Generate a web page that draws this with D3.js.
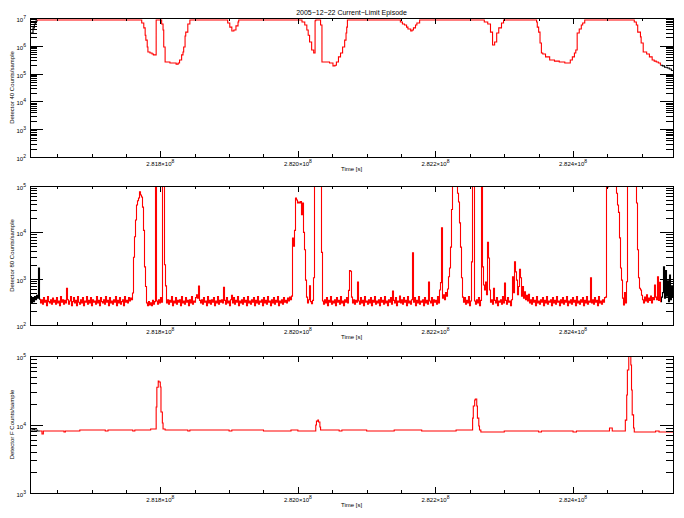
<!DOCTYPE html>
<html>
<head>
<meta charset="utf-8">
<script src="https://cdn.jsdelivr.net/npm/d3@7"></script>
<style>
body { margin: 0; background: #fff; }
text { font-family: "Liberation Sans", Arial, sans-serif; fill: #000; }
</style>
</head>
<body>
<div id="chart"></div>
<script>
// time in kiloseconds
var timeStart = 281610.6, timeEnd = 282545.3
var timeTicks = [281800, 282000, 282200, 282400]
var timeMinor = d3.range(281650, 282545, 50)
var titleText = "2005\u221212\u221222 Current\u2212Limit Episode"

// Detector 40: [time, counts] breakpoints
var det40 = [
    [281610.6, 2.9e6], [281615, 4.4e6], [281617, 6.1e6], [281619, 7.8e6], [281621, 8.5e6],
    [281773, 6.6e6], [281776, 4.4e6], [281778, 2.4e6], [281779, 1.6e6], [281781, 9.1e5], [281782, 6.0e5],
    [281785, 5.5e5], [281788, 5.1e5], [281790, 4.7e5], [281794, 8.5e6], [281802, 6.1e6], [281804, 3.7e6],
    [281805, 9.1e5], [281807, 2.6e5], [281814, 2.4e5], [281823, 2.2e5], [281826, 2.4e5], [281828, 3.1e5],
    [281831, 4.7e5], [281833, 6.0e5], [281834, 9.1e5], [281836, 2.25e6], [281837, 3.1e6], [281840, 6.1e6],
    [281843, 8.5e6],
    [281898, 6.6e6], [281901, 4.7e6], [281904, 3.4e6], [281907, 3.7e6], [281910, 5.2e6], [281913, 7.2e6],
    [281914, 8.5e6],
    [282006, 7.2e6], [282010, 5.6e6], [282013, 3.7e6], [282015, 2.4e6], [282017, 1.37e6], [282020, 7.1e5],
    [282023, 5.5e5], [282025, 8.0e6], [282026, 8.5e6], [282033, 5.6e6], [282035, 2.6e5], [282046, 2.4e5],
    [282051, 1.9e5], [282054, 2.0e5], [282056, 2.6e5], [282059, 4.0e5], [282062, 5.5e5], [282065, 9.1e5],
    [282068, 1.6e6], [282070, 2.9e6], [282071, 4.7e6], [282072, 8.5e6],
    [282149, 7.2e6], [282152, 6.1e6], [282155, 5.6e6], [282158, 4.7e6], [282160, 4.0e6], [282164, 3.4e6],
    [282166, 3.7e6], [282168, 4.4e6], [282171, 5.6e6], [282173, 6.6e6], [282177, 8.5e6],
    [282271, 7.2e6], [282276, 6.1e6], [282280, 3.1e6], [282283, 1.07e6], [282286, 1.37e6], [282289, 2.9e6],
    [282292, 4.4e6], [282296, 6.6e6], [282299, 8.5e6],
    [282347, 7.2e6], [282348, 4.7e6], [282350, 3.1e6], [282352, 1.26e6], [282354, 5.5e5], [282356, 5.1e5],
    [282360, 4.0e5], [282366, 3.1e5], [282373, 2.8e5], [282380, 2.6e5], [282388, 2.4e5], [282396, 3.1e5],
    [282399, 4.0e5], [282402, 5.5e5], [282404, 7.1e5], [282406, 2.9e6], [282409, 4.0e6], [282412, 5.6e6],
    [282414, 6.6e6], [282417, 8.5e6],
    [282489, 7.2e6], [282492, 5.6e6], [282494, 3.1e6], [282498, 2.1e6], [282499, 1.26e6], [282502, 6.0e5],
    [282507, 5.1e5], [282511, 4.0e5], [282515, 3.1e5], [282518, 2.8e5], [282521, 2.6e5], [282524, 2.4e5],
    [282527, 2.0e5], [282530, 1.9e5], [282533, 1.7e5], [282537, 1.6e5], [282540, 1.46e5], [282543, 1.3e5],
    [282545.3, 1.24e5]
]

// Detector 80: evenly sampled counts from timeStart to timeEnd
var det80Counts = [
    330,410,300,390,320,410,350,440,380,1700,360,
    300,350,280,390,310,340,260,410,320,300,350,280,380,310,340,280,390,300,330,260,410,310,350,280,340,300,
    620,
    350,280,330,410,260,320,390,300,340,260,410,310,280,350,300,390,260,330,310,410,
    280,340,300,390,260,350,310,330,280,410,300,340,260,390,320,300,350,280,410,310,
    340,260,390,300,330,280,350,310,410,260,340,300,390,280,320,350,260,410,310,340,
    300,390,330,380,350,
    490,2900,8000,18500,39000,48000,55000,75000,64000,58000,35000,11000,1800,680,
    300,260,320,270,300,260,340,280,320,
    200000,
    330,280,350,300,390,310,
    200000,200000,2000,700,
    300,350,280,340,310,410,260,330,300,390,280,340,310,350,260,410,300,330,280,390,
    310,340,260,350,300,410,280,330,310,390,
    450,380,690,340,
    300,350,280,390,310,330,260,410,300,340,280,350,310,390,260,330,300,410,280,340,
    310,350,300,
    650,
    340,280,390,300,330,260,350,
    440,
    300,390,280,340,310,410,260,330,300,350,280,390,310,340,260,410,300,330,280,350,
    310,390,260,340,300,410,280,330,310,350,260,390,300,340,280,410,310,330,260,350,
    300,390,280,340,310,410,260,330,300,350,280,390,310,340,300,380,330,400,350,
    420,7500,5000,11000,55000,50000,43000,45000,43000,46000,24000,43000,10000,4200,930,400,300,350,700,320,290,340,1050,
    200000,200000,200000,200000,200000,200000,200000,3700,330,
    280,350,300,390,260,340,310,410,280,330,300,350,260,390,310,340,280,410,300,330,
    260,350,310,390,300,
    560,1500,1450,400,
    300,350,280,340,310,
    850,
    330,280,390,300,340,260,410,310,330,280,350,300,390,260,340,310,410,280,330,300,
    350,260,390,310,340,280,410,300,330,260,350,310,390,280,
    540,
    340,300,390,260,330,310,
    420,
    300,350,280,390,310,340,260,410,300,330,280,350,
    3600,
    310,390,260,340,300,410,280,330,310,350,260,390,300,340,280,
    850,
    330,300,390,260,350,310,340,280,410,300,
    570,820,12500,380,450,350,500,420,600,
    1100,1700,4800,31000,200000,200000,200000,200000,200000,70000,45000,16000,4800,1050,400,
    310,390,280,340,300,410,260,330,
    2300,200000,200000,330,
    280,350,300,390,260,340,
    200000,1800,730,570,850,450,6100,2800,570,
    310,350,280,
    620,
    340,300,390,260,330,310,350,280,410,300,
    800,
    340,280,390,310,330,260,350,
    1100,500,2300,1400,930,450,680,1600,1050,420,680,380,520,350,440,330,460,
    300,350,280,390,310,340,260,410,300,330,280,350,310,390,260,340,300,410,280,330,
    310,350,260,390,300,340,280,410,310,330,260,350,300,390,280,340,310,410,260,330,
    300,350,280,390,310,340,260,410,300,330,280,350,310,390,260,340,300,410,280,330,310,
    1050,
    300,350,280,390,310,340,260,410,300,330,280,350,310,390,400,
    200000,95000,200000,200000,200000,200000,200000,200000,200000,200000,
    70000,39000,27000,7600,1700,930,380,270,500,300,860,
    200000,200000,200000,200000,200000,200000,200000,200000,200000,
    43000,4200,1050,620,570,440,
    350,300,400,330,450,310,380,340,420,300,390,350,
    730,400,350,1100,340,830,320,400,
    500,1800,380,1500,420,900,320,1200,350,700,400
]

// Detector F: [time, counts] breakpoints
var detF = [
    [281610.6, 8310], [281615, 8600], [281617, 8310], [281621, 8040],
    [281625, 8040], [281628, 7260], [281630, 8040], [281660, 7780], [281662, 8040], [281683, 8310],
    [281720, 8040], [281724, 8310], [281760, 8040], [281763, 8310], [281786, 8600],
    [281794, 1.8e4], [281795, 3.5e4], [281797, 4.3e4], [281798, 4.17e4], [281800, 3.53e4], [281801, 1.52e4],
    [281803, 1.05e4], [281804, 8600], [281807, 8310], [281840, 8040], [281843, 8310], [281900, 8040],
    [281904, 8310], [281950, 8040], [281990, 8310], [282000, 8040],
    [282026, 9840], [282027, 1.12e4], [282029, 1.16e4], [282030, 1.09e4], [282032, 9190], [282033, 8310],
    [282060, 8040], [282064, 8310], [282100, 8040], [282140, 8310], [282180, 8040], [282230, 8310],
    [282254, 1.24e4], [282255, 1.86e4], [282257, 2.28e4], [282258, 2.36e4], [282260, 1.86e4], [282261, 1.24e4],
    [282263, 9500], [282264, 8310], [282266, 7780], [282300, 8040], [282350, 7780], [282354, 8040],
    [282400, 7780], [282405, 8040], [282453, 8890], [282457, 8040],
    [282476, 1.16e4], [282478, 2.7e4], [282479, 6.25e4], [282481, 1.0e5], [282482, 1.2e5], [282484, 7.4e4],
    [282485, 3.19e4], [282486, 1.38e4], [282488, 8890], [282489, 7780], [282520, 8040], [282525, 7780],
    [282545.3, 7780]
]

var det80 = det80Counts.map(function (v, i) {
    return [timeStart + i * (timeEnd - timeStart) / (det80Counts.length - 1), v]
})

var width = 684, height = 518
var left = 30, right = 673

var panels = [
    { data: det40, label: "Detector 40 Counts/sample", domain: [1e2, 1e7], top: 18, bottom: 157, red: [281620, 282528], curve: d3.curveStepAfter },
    { data: det80, label: "Detector 80 Counts/sample", domain: [1e2, 1e5], top: 186, bottom: 325, red: [281624, 282528], curve: d3.curveStep },
    { data: detF, label: "Detector F Counts/sample", domain: [1e3, 1e5], top: 356, bottom: 493, red: [281624, 282546], curve: d3.curveStepAfter }
]

var svg = d3.select("#chart").append("svg")
    .attr("width", width)
    .attr("height", height)

svg.append("text")
    .attr("x", (left + right) / 2)
    .attr("y", 15)
    .attr("text-anchor", "middle")
    .style("font-size", "7px")
    .text(titleText)

var x = d3.scaleLinear().domain([timeStart, timeEnd]).range([left, right])

panels.forEach(function (p, k) {
    var y = d3.scaleLog().domain(p.domain).range([p.bottom, p.top])

    svg.append("clipPath").attr("id", "clip" + k)
        .append("rect")
        .attr("x", left).attr("y", p.top)
        .attr("width", right - left).attr("height", p.bottom - p.top)

    var plot = svg.append("g").attr("clip-path", "url(#clip" + k + ")")
    var line = d3.line()
        .x(function (d) { return x(d[0]) })
        .y(function (d) { return y(d[1]) })
        .curve(p.curve)

    // black outside the red interval, red inside it
    var i0 = p.data.findIndex(function (d) { return d[0] >= p.red[0] })
    var i1 = p.data.length - 1
    while (i1 > 0 && p.data[i1][0] > p.red[1]) i1--
    var pieces = [
        { pts: p.data.slice(0, i0 + 1), color: "#000" },
        { pts: p.data.slice(i1), color: "#000" },
        { pts: p.data.slice(i0, i1 + 1), color: "#ff0000" }
    ]
    pieces.forEach(function (s) {
        if (s.pts.length < 2) return
        plot.append("path")
            .datum(s.pts)
            .attr("d", line)
            .style("fill", "none")
            .style("stroke", s.color)
            .style("stroke-width", "1.1px")
    })

    // frame
    svg.append("rect")
        .attr("x", left + 0.5).attr("y", p.top + 0.5)
        .attr("width", right - left).attr("height", p.bottom - p.top)
        .style("fill", "none").style("stroke", "#000").style("shape-rendering", "crispEdges")

    // time axes, ticks inward
    function tAxis(axis, size, vals, ypos) {
        var g = svg.append("g").attr("transform", "translate(0," + ypos + ")")
            .call(axis(x).tickValues(vals).tickSize(size).tickSizeOuter(0).tickFormat(""))
        g.select(".domain").remove()
        g.selectAll("line").style("shape-rendering", "crispEdges")
    }
    tAxis(d3.axisBottom, -6, timeTicks, p.bottom)
    tAxis(d3.axisBottom, -3, timeMinor, p.bottom)
    tAxis(d3.axisTop, -6, timeTicks, p.top)
    tAxis(d3.axisTop, -3, timeMinor, p.top)

    timeTicks.forEach(function (t) {
        var lab = svg.append("text")
            .attr("x", x(t))
            .attr("y", p.bottom + 9)
            .attr("text-anchor", "middle")
            .style("font-size", "6px")
            .text((t / 1e5).toFixed(3) + "\u00d710")
        lab.append("tspan").attr("dy", -3).style("font-size", "5px").text("8")
    })

    svg.append("text")
        .attr("x", (left + right) / 2)
        .attr("y", p.bottom + 14)
        .attr("text-anchor", "middle")
        .style("font-size", "6px")
        .text("Time [s]")

    // log axes
    var lo = Math.log10(p.domain[0]), hi = Math.log10(p.domain[1])
    var decades = d3.range(lo, hi + 1).map(function (e) { return Math.pow(10, e) })
    var minors = []
    d3.range(lo, hi).forEach(function (e) {
        for (var m = 2; m <= 9; m++) minors.push(m * Math.pow(10, e))
    })
    function yAxis(axis, size, vals, xpos) {
        var g = svg.append("g").attr("transform", "translate(" + xpos + ",0)")
            .call(axis(y).tickValues(vals).tickSize(size).tickSizeOuter(0).tickFormat(""))
        g.select(".domain").remove()
        g.selectAll("line").style("shape-rendering", "crispEdges")
    }
    yAxis(d3.axisLeft, -13, decades, left)
    yAxis(d3.axisLeft, -7, minors, left)
    yAxis(d3.axisRight, -13, decades, right)
    yAxis(d3.axisRight, -7, minors, right)

    decades.forEach(function (v) {
        var lab = svg.append("text")
            .attr("x", 26)
            .attr("y", y(v) + 4)
            .attr("text-anchor", "end")
            .style("font-size", "6px")
            .text("10")
        lab.append("tspan").attr("dy", -3).style("font-size", "5px").text(Math.round(Math.log10(v)))
    })

    svg.append("text")
        .attr("transform", "translate(14," + (p.top + p.bottom) / 2 + ") rotate(-90)")
        .attr("text-anchor", "middle")
        .style("font-size", "6px")
        .text(p.label)
})
</script>
</body>
</html>
